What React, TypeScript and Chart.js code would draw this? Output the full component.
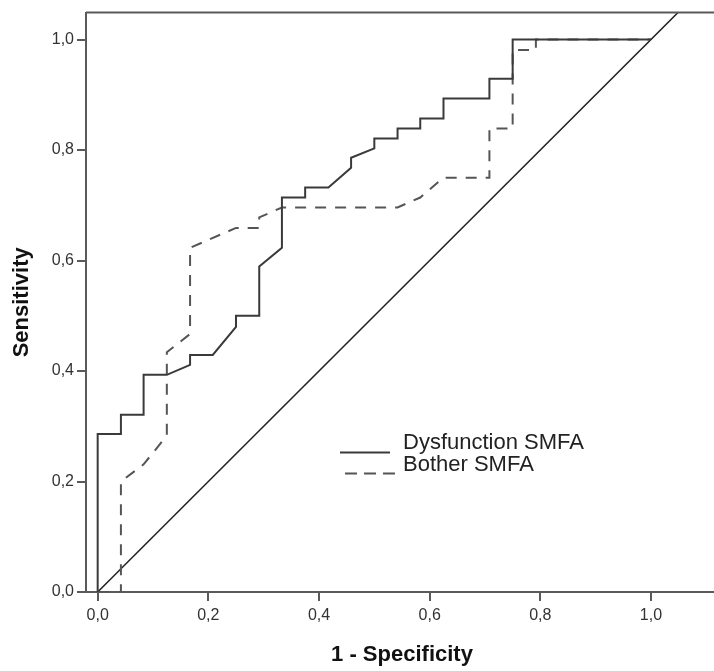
import React, { useEffect, useRef } from 'react';
import { Chart, registerables } from 'chart.js';

Chart.register(...registerables);

// ---- data ----
const seriesLabels = ['Dysfunction SMFA', 'Bother SMFA'];

const dysfunctionFpr = [0, 0, 0.042, 0.042, 0.083, 0.083, 0.125, 0.167, 0.167, 0.208, 0.25, 0.25, 0.292, 0.292, 0.333, 0.333, 0.375, 0.375, 0.417, 0.458, 0.458, 0.5, 0.5, 0.542, 0.542, 0.583, 0.583, 0.625, 0.625, 0.708, 0.708, 0.75, 0.75, 1.0];
const dysfunctionTpr = [0, 0.286, 0.286, 0.321, 0.321, 0.393, 0.393, 0.411, 0.429, 0.429, 0.48, 0.5, 0.5, 0.589, 0.623, 0.714, 0.714, 0.732, 0.732, 0.768, 0.786, 0.803, 0.821, 0.821, 0.839, 0.839, 0.857, 0.857, 0.893, 0.893, 0.929, 0.929, 1.0, 1.0];

const botherFpr = [0, 0.042, 0.042, 0.083, 0.125, 0.125, 0.167, 0.167, 0.25, 0.292, 0.292, 0.333, 0.542, 0.583, 0.625, 0.708, 0.708, 0.75, 0.75, 0.792, 0.792, 1.0];
const botherTpr = [0, 0, 0.2, 0.231, 0.283, 0.434, 0.467, 0.623, 0.659, 0.659, 0.678, 0.696, 0.696, 0.714, 0.75, 0.75, 0.839, 0.839, 0.981, 0.981, 1.0, 1.0];

const diagonalFpr = [0, 1.2];
const diagonalTpr = [0, 1.2];

const tickValues = [0, 0.2, 0.4, 0.6, 0.8, 1.0];
const xAxisTitle = '1 - Specificity';
const yAxisTitle = 'Sensitivity';

const toPoints = (xs: number[], ys: number[]) => xs.map((x, i) => ({ x, y: ys[i] }));
const fmt = (v: number) => v.toFixed(1).replace('.', ',');

const AXIS_COLOR = '#5a5a5a';
const FONT = '"Liberation Sans", Arial, Helvetica, sans-serif';

const overlayPlugin = {
  id: 'overlay',
  afterDraw(chart: any) {
    const ctx: CanvasRenderingContext2D = chart.ctx;
    const a = chart.chartArea;
    ctx.save();
    // top frame line
    ctx.strokeStyle = AXIS_COLOR;
    ctx.lineWidth = 2;
    ctx.setLineDash([]);
    ctx.beginPath();
    ctx.moveTo(a.left, a.top);
    ctx.lineTo(a.right, a.top);
    ctx.stroke();

    // axis titles
    ctx.fillStyle = '#111';
    ctx.font = `bold 22px ${FONT}`;
    ctx.textAlign = 'center';
    ctx.textBaseline = 'middle';
    ctx.fillText(xAxisTitle, (a.left + a.right) / 2 + 2, a.bottom + 63);
    ctx.save();
    ctx.translate(22, (a.top + a.bottom) / 2);
    ctx.rotate(-Math.PI / 2);
    ctx.fillText(yAxisTitle, 0, 0);
    ctx.restore();

    // legend
    const ds = chart.data.datasets;
    const lx = a.left + 254;
    const ly = a.top + 440;
    ctx.font = `22px ${FONT}`;
    ctx.textAlign = 'left';
    ctx.textBaseline = 'alphabetic';
    ctx.fillStyle = '#222';
    // solid sample
    ctx.strokeStyle = ds[0].borderColor;
    ctx.lineWidth = 2;
    ctx.setLineDash([]);
    ctx.beginPath();
    ctx.moveTo(lx, ly);
    ctx.lineTo(lx + 50, ly);
    ctx.stroke();
    ctx.fillText(ds[0].label, lx + 63, ly - 4);
    // dashed sample
    ctx.strokeStyle = ds[1].borderColor;
    ctx.setLineDash([12, 7]);
    ctx.beginPath();
    ctx.moveTo(lx + 5, ly + 21);
    ctx.lineTo(lx + 55, ly + 21);
    ctx.stroke();
    ctx.setLineDash([]);
    ctx.fillText(ds[1].label, lx + 63, ly + 18);
    ctx.restore();
  },
};

export default function App() {
  const canvasRef = useRef<HTMLCanvasElement | null>(null);

  useEffect(() => {
    if (!canvasRef.current) return;
    const setTicks = (scale: any) => {
      scale.ticks = tickValues.map((v) => ({ value: v }));
    };
    const chart = new Chart(canvasRef.current, {
      type: 'scatter',
      data: {
        datasets: [
          {
            label: seriesLabels[0],
            data: toPoints(dysfunctionFpr, dysfunctionTpr),
            showLine: true,
            borderColor: '#3a3a3a',
            borderWidth: 2,
            pointRadius: 0,
            tension: 0,
            fill: false,
          },
          {
            label: seriesLabels[1],
            data: toPoints(botherFpr, botherTpr),
            showLine: true,
            borderColor: '#555555',
            borderWidth: 2,
            borderDash: [11, 9],
            pointRadius: 0,
            tension: 0,
            fill: false,
          },
          {
            label: 'reference',
            data: toPoints(diagonalFpr, diagonalTpr),
            showLine: true,
            borderColor: '#222222',
            borderWidth: 1.5,
            pointRadius: 0,
            tension: 0,
            fill: false,
          },
        ],
      },
      options: {
        responsive: false,
        animation: false,
        layout: { padding: { top: 11, right: 0, left: 0, bottom: 0 } },
        plugins: {
          legend: { display: false },
          tooltip: { enabled: false },
          title: { display: false },
        },
        scales: {
          x: {
            type: 'linear',
            position: 'bottom',
            min: -0.0211,
            max: 1.1139,
            afterBuildTicks: setTicks,
            afterFit: (scale: any) => {
              scale.height = 79;
            },
            grid: {
              drawOnChartArea: false,
              drawTicks: true,
              tickLength: 9,
              color: AXIS_COLOR,
              lineWidth: 2,
            },
            border: { display: true, color: AXIS_COLOR, width: 2 },
            ticks: {
              padding: 5,
              color: '#333',
              font: { family: FONT, size: 16 },
              maxRotation: 0,
              callback: (v: any) => fmt(Number(v)),
            },
          },
          y: {
            type: 'linear',
            position: 'left',
            min: 0,
            max: 1.0487,
            afterBuildTicks: setTicks,
            afterFit: (scale: any) => {
              scale.width = 86;
            },
            grid: {
              drawOnChartArea: false,
              drawTicks: true,
              tickLength: 9,
              color: AXIS_COLOR,
              lineWidth: 2,
            },
            border: { display: true, color: AXIS_COLOR, width: 2 },
            ticks: {
              padding: 3,
              color: '#333',
              font: { family: FONT, size: 16 },
              callback: (v: any) => fmt(Number(v)),
            },
          },
        },
      },
      plugins: [overlayPlugin],
    });
    return () => chart.destroy();
  }, []);

  return (
    <div style={{ position: 'absolute', left: 0, top: 0, width: 714, height: 671, background: '#fff' }}>
      <canvas ref={canvasRef} width={714} height={671} style={{ display: 'block' }} />
    </div>
  );
}
